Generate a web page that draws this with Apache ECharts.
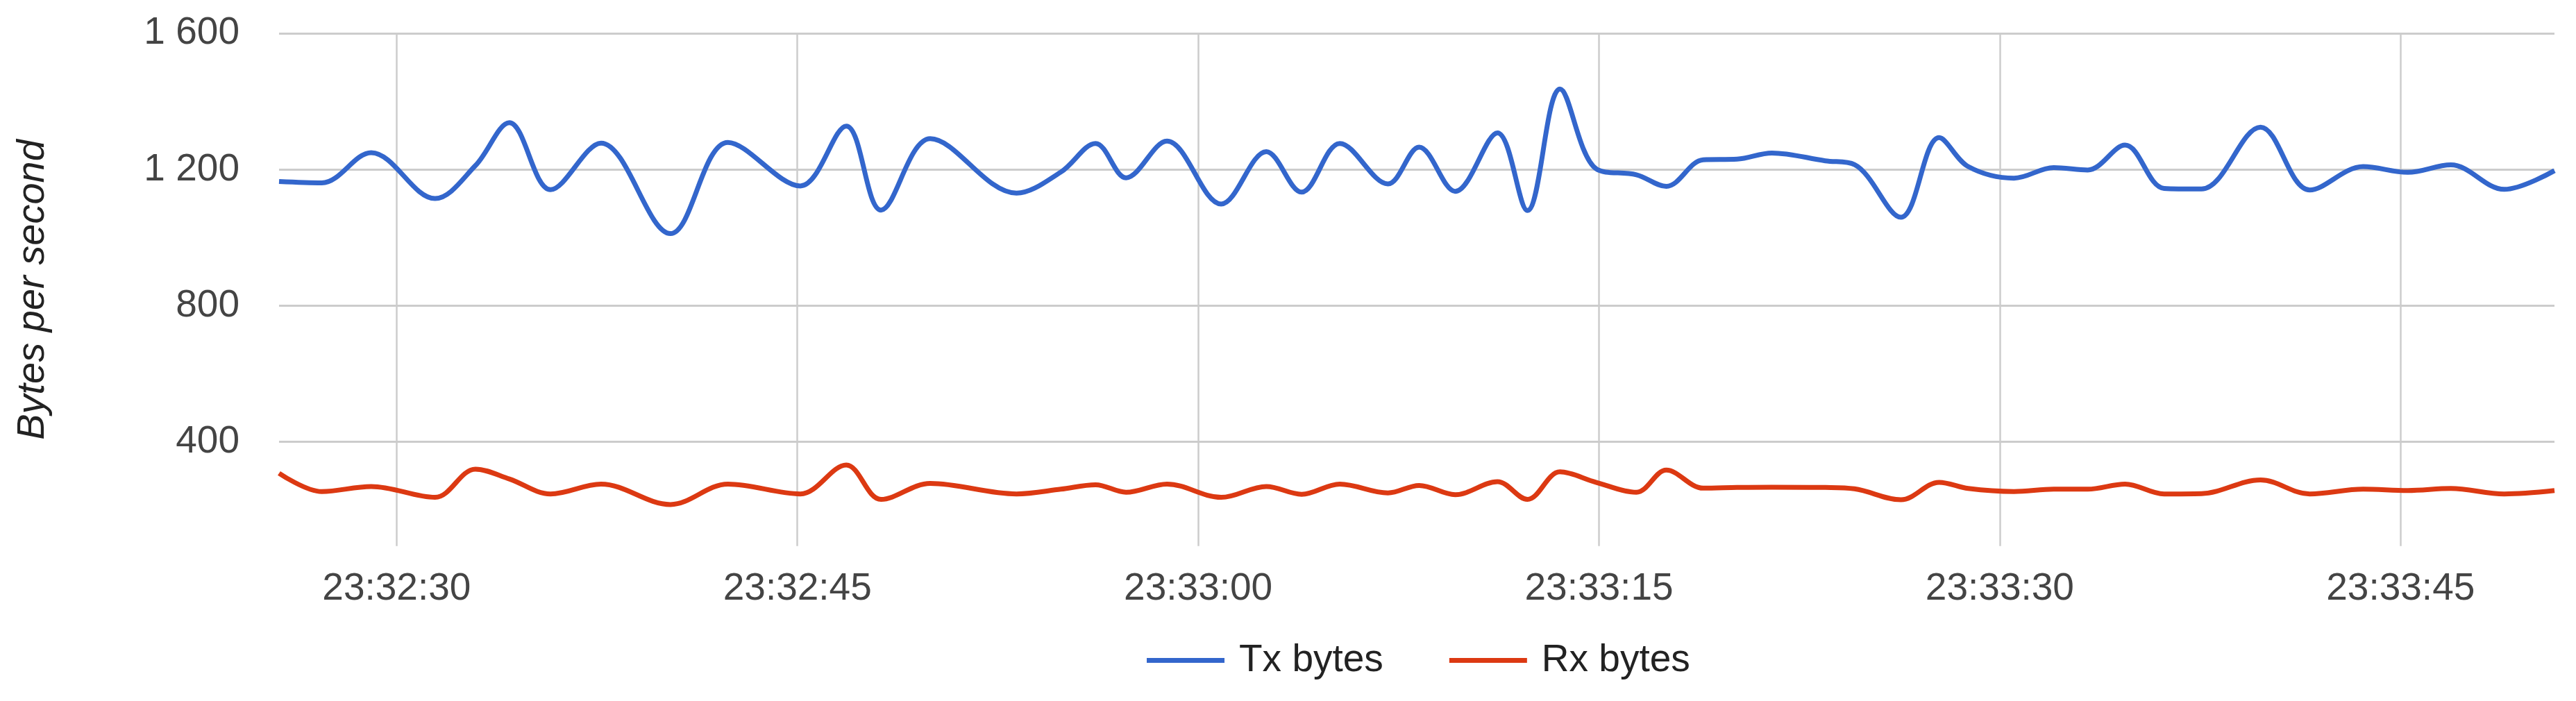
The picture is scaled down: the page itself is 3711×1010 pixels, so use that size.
<!DOCTYPE html>
<html>
<head>
<meta charset="utf-8">
<title>Bytes per second</title>
<script src="https://cdn.jsdelivr.net/npm/echarts@6/dist/echarts.min.js"></script>
<style>
  html, body { margin: 0; padding: 0; background: #fff; }
  #chart-main { width: 3711px; height: 1010px; }
</style>
</head>
<body>
<div id="chart-main"></div>
<script>
// seconds after 23:32:00 for each sample
const times = [
  25.6, 27.2, 29.05, 31.44, 32.95, 34.22, 35.76, 37.65, 40.25, 42.4,
  45.11, 46.83, 48.13, 49.97, 53.2, 54.86, 56.16, 57.3, 58.83,
  60.86, 62.55, 63.87, 65.3, 67.1, 68.27, 69.62, 71.2, 72.32, 73.54,
  74.9, 76.4, 77.52, 78.9, 80.17, 81.47, 83.47, 84.56, 86.3, 87.73,
  88.82, 90.53, 92.02, 93.29, 94.69, 96.15, 97.55, 99.76, 101.6,
  103.6, 105.27, 106.88, 108.88, 110.76
]
const txBytes = [
  1165, 1161, 1250, 1115, 1212, 1338, 1141, 1278, 1012, 1280,
  1152, 1328, 1081, 1291, 1131, 1193, 1277, 1176, 1284,
  1099, 1253, 1134, 1277, 1158, 1266, 1136, 1308, 1080, 1437,
  1202, 1185, 1151, 1229, 1231, 1249, 1226, 1215, 1060, 1294,
  1209, 1175, 1206, 1199, 1272, 1145, 1143, 1325, 1140,
  1209, 1192, 1214, 1142, 1197
]
const rxBytes = [
  308, 254, 269, 237, 320, 291, 247, 276, 216, 276,
  247, 332, 231, 278, 247, 261, 274, 252, 276,
  237, 269, 246, 276, 250, 272, 245, 283, 231, 312,
  281, 252, 317, 264, 266, 267, 266, 262, 230, 281,
  263, 254, 261, 261, 276, 247, 248, 288, 247,
  261, 257, 263, 247, 257
]
const xTickValues = [30, 45, 60, 75, 90, 105]
const xTickLabels = ['23:32:30', '23:32:45', '23:33:00', '23:33:15', '23:33:30', '23:33:45']
const yTickValues = [400, 800, 1200, 1600]
const seriesNames = ['Tx bytes', 'Rx bytes']

const font = 'Liberation Sans, Arial, sans-serif'

const myChart = echarts.init(document.getElementById('chart-main'))
myChart.setOption({
  backgroundColor: '#fff',
  animation: false,
  color: ['#3366cc', '#dc3912'],
  textStyle: { fontFamily: font },
  grid: { left: 402, right: 31, top: 48.3, bottom: 223.3, containLabel: false, outerBoundsMode: 'none' },
  legend: {
    left: 1647,
    top: 919,
    icon: 'rect',
    itemWidth: 112,
    itemHeight: 7,
    itemGap: 95,
    textStyle: { fontSize: 55, color: '#222', fontFamily: font, padding: [0, 0, 0, 16] },
    data: seriesNames
  },
  xAxis: {
    type: 'value',
    min: 25.6,
    max: 110.76,
    axisLine: { show: false },
    axisTick: { show: false, customValues: xTickValues },
    splitLine: { show: true, lineStyle: { color: '#cccccc', width: 2.5 } },
    axisLabel: {
      customValues: xTickValues,
      margin: 35,
      fontSize: 55,
      color: '#444',
      fontFamily: font,
      formatter: (v) => xTickLabels[xTickValues.indexOf(Math.round(v))]
    }
  },
  yAxis: {
    type: 'value',
    min: 94,
    max: 1600,
    name: 'Bytes per second',
    nameLocation: 'middle',
    nameRotate: 90,
    nameGap: 327,
    nameTextStyle: { fontSize: 56, fontStyle: 'italic', color: '#222', fontFamily: font },
    axisLine: { show: false },
    axisTick: { show: false, customValues: yTickValues },
    splitLine: { show: true, lineStyle: { color: '#cccccc', width: 3 } },
    axisLabel: {
      customValues: yTickValues,
      margin: 57,
      fontSize: 55,
      color: '#444',
      fontFamily: font,
      formatter: (v) => String(v).replace(/\B(?=(\d{3})+(?!\d))/g, ' ')
    }
  },
  series: [
    {
      name: seriesNames[0],
      type: 'line',
      smooth: 0.35,
      symbol: 'none',
      lineStyle: { width: 7 },
      data: times.map((t, i) => [t, txBytes[i]])
    },
    {
      name: seriesNames[1],
      type: 'line',
      smooth: 0.35,
      symbol: 'none',
      lineStyle: { width: 7 },
      data: times.map((t, i) => [t, rxBytes[i]])
    }
  ]
})
</script>
</body>
</html>
